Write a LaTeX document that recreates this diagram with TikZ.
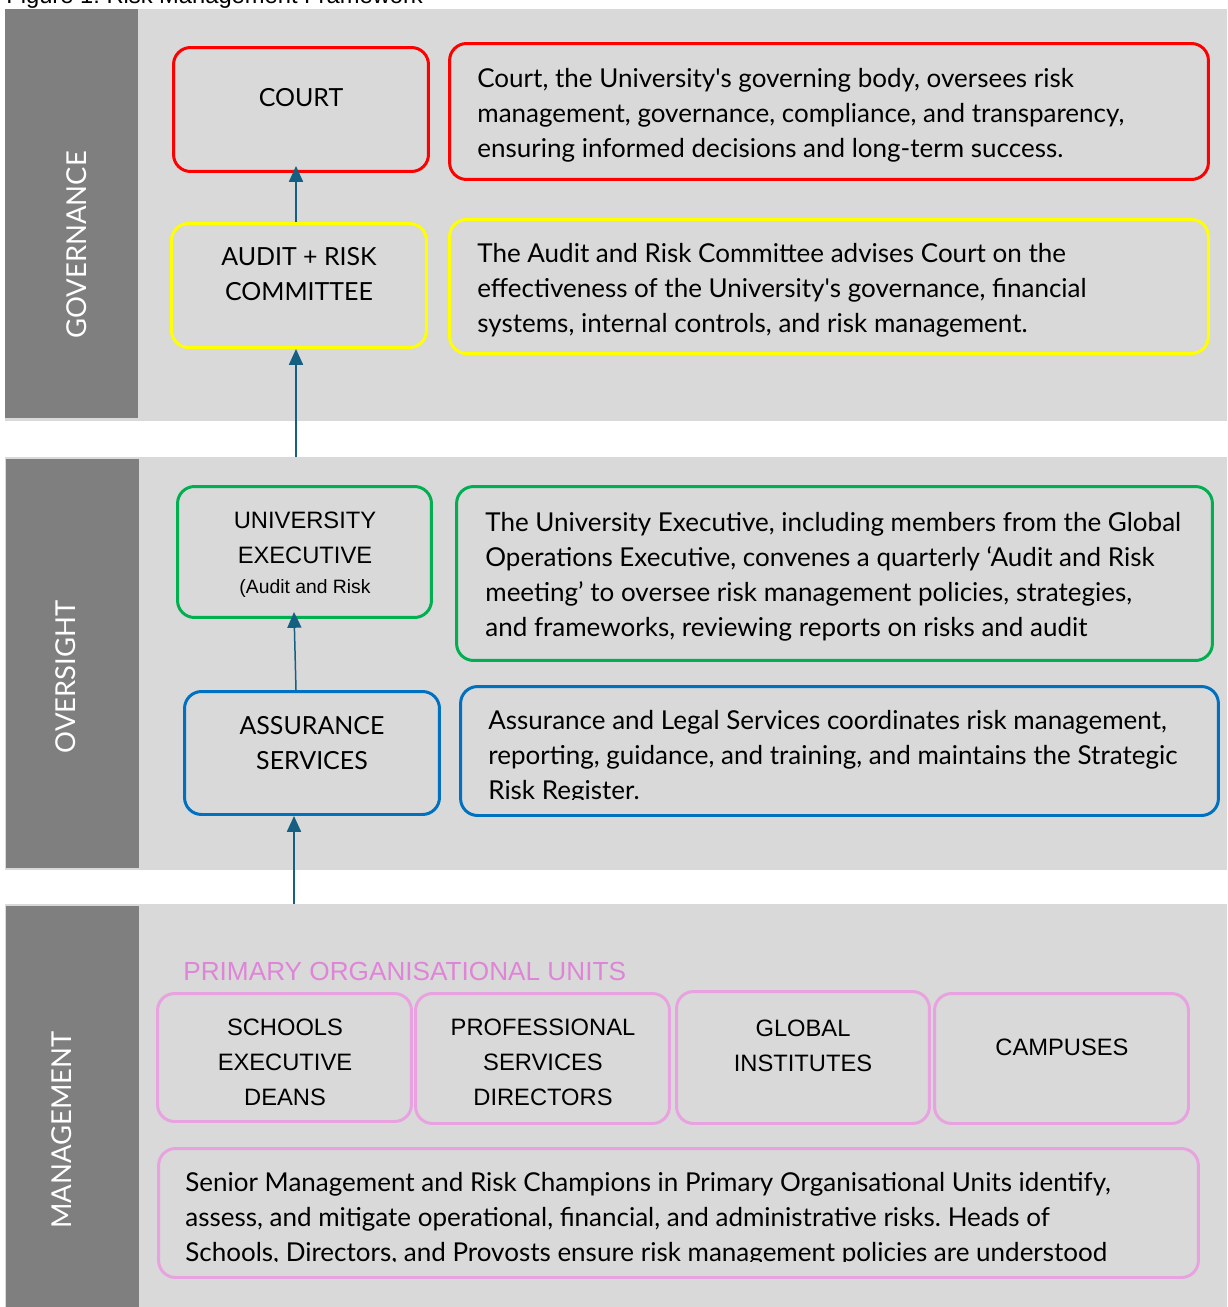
\documentclass[tikz,border=0pt]{standalone}
\usepackage{fontspec}
\setmainfont{Lato}
\newfontfamily\arialfont{Liberation Sans}
\usetikzlibrary{arrows.meta}
\frenchspacing

\definecolor{bandgrey}{HTML}{D9D9D9}
\definecolor{sidegrey}{HTML}{7F7F7F}
\definecolor{boxred}{HTML}{FF0000}
\definecolor{boxyellow}{HTML}{FFFF00}
\definecolor{boxgreen}{HTML}{00B050}
\definecolor{boxblue}{HTML}{0070C0}
\definecolor{boxpink}{HTML}{E8A2DF}
\definecolor{pinktext}{HTML}{DF85D8}
\definecolor{arrowblue}{HTML}{156082}

\begin{document}
\begin{tikzpicture}[
    x=0.02cm, y=-0.02cm,
    frame/.style={draw=#1, line width=1.7pt, rounded corners=0.34cm, inner sep=0pt},
    unit/.style={frame=#1, minimum width=5.1cm, minimum height=2.48cm},
    desc/.style={frame=#1, minimum width=15.18cm},
    bandlabel/.style={rotate=90, text=white, font=\fontsize{15.6}{18}\selectfont},
    captext/.style={align=center, font=\fontsize{14.2}{19.9}\selectfont},
    arialtext/.style={align=center, font=\arialfont\fontsize{13.5}{19.9}\selectfont},
    desctext/.style={anchor=west, align=left, inner sep=0pt, font=\fontsize{14.8}{19.9}\selectfont},
    link/.style={draw=arrowblue, line width=0.85pt, -{Triangle[width=8pt,length=9pt]}}
]
\useasboundingbox (0,0) rectangle (1227,1307);
\clip (0,0) rectangle (1227,1307);

% Caption
\node[anchor=base west, inner sep=0pt, font=\arialfont\fontsize{13.5}{15}\selectfont] (caption) at (6,4) {Figure 1: Risk Management Framework};

% Bands
\fill[bandgrey] (5,9) rectangle (1227,421);
\fill[sidegrey] (5,9) rectangle (138,418);
\fill[bandgrey] (5,457) rectangle (1227,870);
\fill[sidegrey] (6,459) rectangle (139,868);
\fill[bandgrey] (5,904) rectangle (1227,1307);
\fill[sidegrey] (6,906) rectangle (139,1307);

\node[bandlabel] (governance) at (77,245) {GOVERNANCE};
\node[bandlabel] (oversight) at (66,677) {OVERSIGHT};
\node[bandlabel] (management) at (62,1130) {MANAGEMENT};

% Governance
\node[unit=boxred] (court) at (301,109.5) {};
\node[captext] (courttxt) at (301,98) {COURT};
\node[unit=boxyellow] (audit) at (299,285.5) {};
\node[captext] (audittxt) at (299,274.5) {AUDIT + RISK\\COMMITTEE};

\node[desc=boxred, minimum height=2.72cm] (courtdesc) at (829,111.5) {};
\node[desctext] (courtdesctxt) at (477,115) {Court, the University\textquotesingle s governing body, oversees risk\\
    management, governance, compliance, and transparency,\\
    ensuring informed decisions and long-term success.};
\node[desc=boxyellow, minimum height=2.68cm] (auditdesc) at (829,286.5) {};
\node[desctext] (auditdesctxt) at (477,290.5) {The Audit and Risk Committee advises Court on the\\
    effectiveness of the University\textquotesingle s governance, financial\\
    systems, internal controls, and risk management.};

% Oversight
\node[unit=boxgreen, minimum width=5.08cm, minimum height=2.62cm] (univ) at (304.5,552) {};
\node[arialtext] (univtxt) at (305,555) {UNIVERSITY\\EXECUTIVE\\[-3pt]{\fontsize{11}{13}\selectfont (Audit and Risk}};
\node[unit=boxblue, minimum height=2.46cm] (assurance) at (312,753) {};
\node[captext] (assurancetxt) at (312,743) {ASSURANCE\\SERVICES};

\node[desc=boxgreen, minimum width=15.12cm, minimum height=3.48cm] (univdesc) at (834.5,573.5) {};
\node[desctext] (univdesctxt) at (485,576.5) {The University Executive, including members from the Global\\
    Operations Executive, convenes a quarterly `Audit and Risk\\
    meeting' to oversee risk management policies, strategies,\\
    and frameworks, reviewing reports on risks and audit};
\node[desc=boxblue, minimum width=15.16cm, minimum height=2.58cm] (assurancedesc) at (839.5,751) {};
\begin{scope}
  \clip (459,685) rectangle (1220,799);
  \node[desctext] (assurancedesctxt) at (488,757) {Assurance and Legal Services coordinates risk management,\\
      reporting, guidance, and training, and maintains the Strategic\\
      Risk Register.};
\end{scope}

% Management
\node[anchor=west, inner sep=0pt, text=pinktext, font=\arialfont\fontsize{14.9}{16}\selectfont] (units) at (183,971) {PRIMARY ORGANISATIONAL UNITS};
\node[unit=boxpink, minimum width=5.08cm, minimum height=2.56cm] (schools) at (284.5,1057.5) {};
\node[arialtext] (schoolstxt) at (285,1062) {SCHOOLS\\EXECUTIVE\\DEANS};
\node[unit=boxpink, minimum width=5.08cm, minimum height=2.6cm] (profsvc) at (542.5,1058.5) {};
\node[arialtext] (profsvctxt) at (543,1062) {PROFESSIONAL\\SERVICES\\DIRECTORS};
\node[unit=boxpink, minimum width=5.06cm, minimum height=2.64cm] (global) at (803,1057.5) {};
\node[arialtext] (globaltxt) at (803,1045.5) {GLOBAL\\INSTITUTES};
\node[unit=boxpink, minimum width=5.08cm, minimum height=2.6cm] (campuses) at (1061.5,1058.5) {};
\node[arialtext] (campusestxt) at (1062,1047) {CAMPUSES};

\node[frame=boxpink, minimum width=20.8cm, minimum height=2.58cm] (mgmtdesc) at (678.5,1213) {};
\begin{scope}
  \clip (157,1147) rectangle (1200,1261);
  \node[desctext] (mgmtdesctxt) at (185,1219) {Senior Management and Risk Champions in Primary Organisational Units identify,\\
      assess, and mitigate operational, financial, and administrative risks. Heads of\\
      Schools, Directors, and Provosts ensure risk management policies are understood};
\end{scope}

% Arrows
\coordinate (ovtop) at (296,457);
\coordinate (mgtop) at (294,904);
\draw[link] (audit.north -| ovtop) -- ([yshift=0.14cm]court.south -| ovtop);
\draw[link] (ovtop) -- (audit.south -| ovtop);
\draw[link] (assurance.north -| 296,0) -- ([yshift=0.14cm]univ.south -| 294,0);
\draw[link] (mgtop) -- (assurance.south -| mgtop);

\end{tikzpicture}
\end{document}
